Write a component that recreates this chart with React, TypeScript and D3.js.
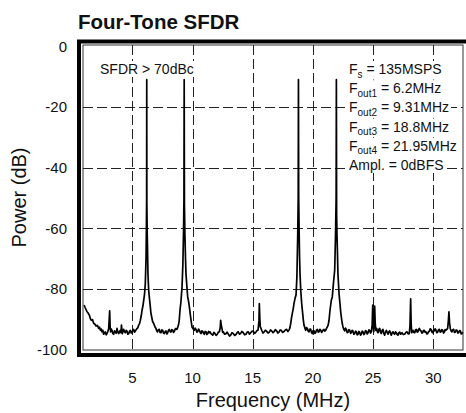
import React, { useEffect, useRef } from "react";
import * as d3 from "d3";

// spectrum trace: [frequency MHz, power dB]
const trace: [number, number][] = [
  [1.0, -85.3], [1.07, -86], [1.24, -87.5], [1.33, -87.9], [1.43, -88.6], [1.52, -89.8], [1.6, -90.3],
  [1.7, -90.1], [1.79, -91.3], [1.9, -91.6], [1.99, -92.2], [2.1, -92.0], [2.21, -93], [2.28, -92.6],
  [2.35, -93.6], [2.42, -93.2], [2.48, -94.1], [2.55, -93.6], [2.62, -94.9], [2.7, -94.4], [2.76, -94.1],
  [2.83, -95.1], [2.9, -94.7], [2.97, -94.0], [3.04, -93], [3.12, -87.2], [3.16, -92.5], [3.2, -94.1],
  [3.26, -93.2], [3.31, -93.6], [3.38, -94.6], [3.45, -94.9], [3.52, -93.8], [3.59, -94.1], [3.66, -94.6],
  [3.73, -93], [3.8, -94.2], [3.87, -94.7], [3.94, -94.0], [4.01, -93.6], [4.06, -94.4], [4.1, -91.9],
  [4.17, -94.7], [4.22, -94.1], [4.28, -93.3], [4.35, -94.0], [4.42, -94.4], [4.49, -93.6], [4.56, -93.9],
  [4.63, -94.9], [4.7, -94.7], [4.77, -93.9], [4.84, -93.6], [4.91, -94.5], [4.98, -94.2], [5.05, -93.7],
  [5.11, -93.3], [5.18, -94.2], [5.25, -93.9], [5.32, -93.4], [5.39, -93], [5.46, -92.8], [5.53, -91.9],
  [5.6, -91.4], [5.67, -90.3], [5.74, -88.9], [5.81, -87], [5.88, -85.6], [5.95, -83.7], [6.02, -81.5],
  [6.08, -78.3], [6.14, -70], [6.17, -60], [6.19, -50], [6.2, -11], [6.21, -52], [6.24, -62], [6.27, -68],
  [6.3, -75], [6.36, -80.4], [6.42, -82.9], [6.47, -84.8], [6.55, -88], [6.62, -89.4], [6.69, -90.8],
  [6.76, -91.2], [6.83, -91.9], [6.9, -92.6], [6.97, -93], [7.03, -93.8], [7.1, -94.1], [7.17, -93.4],
  [7.24, -93.3], [7.31, -94.3], [7.38, -94.4], [7.45, -93.5], [7.52, -93.6], [7.59, -94.5], [7.66, -94.7],
  [7.73, -94.0], [7.8, -93.8], [7.87, -94.8], [7.94, -94.4], [8.0, -93.7], [8.07, -93.3], [8.14, -94.0],
  [8.21, -94.2], [8.28, -93.4], [8.36, -93.6], [8.42, -94.3], [8.49, -94], [8.56, -93.2], [8.63, -93],
  [8.7, -93.3], [8.77, -92.7], [8.84, -91.8], [8.9, -90.3], [8.96, -87], [9.04, -84.2], [9.13, -79.3],
  [9.2, -72], [9.26, -60], [9.29, -50], [9.31, -11], [9.33, -52], [9.37, -62], [9.42, -70], [9.46, -75],
  [9.53, -79], [9.6, -82.6], [9.67, -84.0], [9.74, -85.9], [9.81, -88.2], [9.88, -90.3], [9.96, -92.5],
  [10.05, -93.1], [10.15, -93.6], [10.22, -92.9], [10.29, -93.3], [10.36, -94.2], [10.43, -94.1],
  [10.5, -93.2], [10.57, -93.6], [10.64, -94.3], [10.71, -94.7], [10.78, -93.8], [10.85, -93.9],
  [10.92, -94.6], [10.98, -94.9], [11.05, -94.0], [11.12, -94.1], [11.19, -95.0], [11.26, -94.7],
  [11.33, -94.0], [11.4, -94.4], [11.45, -94.1], [11.55, -94.8], [11.68, -95.2], [11.78, -94.3],
  [11.87, -94.7], [11.96, -95.3], [12.06, -94.9], [12.15, -94.2], [12.23, -94.1], [12.3, -92.8],
  [12.34, -90.3], [12.4, -92.2], [12.45, -93], [12.5, -94.3], [12.56, -94.1], [12.67, -94.9],
  [12.78, -94.7], [12.88, -94.2], [12.98, -94.9], [13.08, -95.5], [13.17, -95.2], [13.28, -94.4],
  [13.39, -94.7], [13.5, -95.3], [13.61, -95], [13.7, -94.4], [13.8, -94.1], [13.9, -94.9],
  [13.99, -94.7], [14.1, -94.0], [14.22, -94.4], [14.33, -95.1], [14.44, -94.9], [14.54, -94.2],
  [14.63, -94.1], [14.73, -94.9], [14.83, -94.4], [14.94, -93.9], [15.05, -94], [15.16, -94.6],
  [15.27, -94.2], [15.36, -93.7], [15.44, -93.6], [15.52, -90.5], [15.55, -84.8], [15.59, -89.5],
  [15.63, -92.5], [15.69, -93.0], [15.75, -93.6], [15.85, -94.5], [15.94, -94.2], [16.05, -93.6],
  [16.16, -93.9], [16.27, -94.5], [16.38, -94.2], [16.48, -93.5], [16.58, -93.8], [16.68, -94.4],
  [16.77, -94.1], [16.88, -93.4], [16.99, -93.8], [17.09, -94.5], [17.18, -94.2], [17.28, -93.5],
  [17.37, -93.6], [17.48, -94.3], [17.6, -94], [17.71, -93.5], [17.82, -93.3], [17.92, -94.0],
  [18.01, -93.6], [18.09, -92.8], [18.16, -91.3], [18.22, -89.6], [18.29, -88], [18.36, -86.6],
  [18.43, -84.8], [18.52, -83], [18.6, -82], [18.67, -76], [18.74, -62], [18.78, -50], [18.8, -11],
  [18.82, -50], [18.86, -62], [18.89, -69], [18.93, -75], [18.99, -80.4], [19.07, -84.8], [19.15, -88],
  [19.2, -90.0], [19.26, -91.9], [19.33, -92.8], [19.4, -93.6], [19.47, -92.7], [19.54, -93],
  [19.61, -93.9], [19.68, -94.1], [19.75, -93.2], [19.82, -93.3], [19.88, -94.3], [19.95, -94.7],
  [20.02, -93.7], [20.09, -93.8], [20.16, -94.6], [20.23, -94.4], [20.3, -93.5], [20.37, -93.3],
  [20.44, -94.2], [20.51, -94.1], [20.58, -93.3], [20.65, -93.6], [20.72, -94.3], [20.78, -94],
  [20.85, -93.5], [20.92, -93.3], [20.99, -93.9], [21.06, -93.6], [21.13, -93.0], [21.2, -92.5],
  [21.27, -91.8], [21.34, -90.3], [21.42, -87], [21.53, -83.7], [21.61, -82.6], [21.7, -78.3],
  [21.81, -73.8], [21.88, -62], [21.93, -50], [21.95, -11], [21.97, -55], [22.0, -62], [22.04, -68],
  [22.08, -75], [22.13, -78.6], [22.17, -81.5], [22.25, -84.8], [22.3, -87.2], [22.36, -89.2],
  [22.43, -91.2], [22.5, -92.5], [22.57, -93.3], [22.64, -93.8], [22.71, -92.9], [22.78, -93.3],
  [22.85, -94.4], [22.92, -94.2], [22.99, -93.4], [23.06, -93.6], [23.13, -94.6], [23.19, -94.4],
  [23.26, -93.6], [23.33, -93.9], [23.4, -94.9], [23.47, -94.7], [23.54, -93.9], [23.61, -94.1],
  [23.68, -95.1], [23.75, -94.9], [23.82, -94.0], [23.88, -94.2], [23.95, -95.2], [24.02, -94.9],
  [24.09, -93.9], [24.16, -94.1], [24.23, -95.0], [24.3, -94.7], [24.37, -93.7], [24.44, -93.9],
  [24.51, -94.8], [24.58, -94.4], [24.65, -93.5], [24.71, -93.6], [24.78, -94.5], [24.85, -94.1],
  [24.92, -92.0], [24.97, -85.3], [25.01, -91.5], [25.05, -94.1], [25.09, -90.6], [25.13, -85.6],
  [25.17, -90.8], [25.22, -93.6], [25.3, -93], [25.35, -94.0], [25.41, -94.4], [25.48, -93.2],
  [25.55, -93], [25.61, -94.2], [25.68, -94.7], [25.75, -93.6], [25.82, -93.3], [25.89, -94.6],
  [25.96, -95.2], [26.03, -94.2], [26.1, -93.6], [26.17, -94.3], [26.24, -94.9], [26.31, -94.1],
  [26.38, -93.8], [26.45, -94.6], [26.51, -95.2], [26.58, -94.5], [26.65, -94.1], [26.72, -94.6],
  [26.79, -94.9], [26.86, -94.1], [26.93, -94.4], [27.0, -95.0], [27.07, -95.2], [27.14, -94.4],
  [27.21, -94.2], [27.28, -94.9], [27.34, -94.7], [27.4, -94.4], [27.51, -95.0], [27.62, -94.9],
  [27.72, -94.3], [27.82, -94.1], [27.91, -94.8], [28.0, -94.7], [28.06, -92.5], [28.12, -83.2],
  [28.16, -91.0], [28.2, -94.4], [28.26, -94.0], [28.31, -93.6], [28.38, -94.3], [28.46, -94.4],
  [28.52, -93.5], [28.59, -93.3], [28.66, -94.2], [28.73, -94.1], [28.78, -93.3], [28.84, -93],
  [28.91, -93.6], [28.98, -93.8], [29.05, -94.5], [29.12, -94.4], [29.18, -93.7], [29.25, -93.6],
  [29.32, -94.2], [29.39, -94.1], [29.46, -94.8], [29.53, -94.7], [29.6, -94.1], [29.67, -93.9],
  [29.74, -93.1], [29.81, -93.3], [29.88, -94.2], [29.95, -94.4], [30.02, -93.6], [30.08, -93.8],
  [30.15, -93.1], [30.22, -93.6], [30.29, -94.4], [30.36, -94.2], [30.43, -93.4], [30.5, -93.3],
  [30.57, -94.2], [30.64, -94.1], [30.71, -93.4], [30.78, -93.6], [30.85, -94.5], [30.91, -94.2],
  [30.98, -93.4], [31.05, -93.6], [31.12, -93.3], [31.19, -93], [31.25, -90.5], [31.3, -87.5],
  [31.35, -91.2], [31.41, -93], [31.48, -93.8], [31.55, -94.1], [31.62, -93.4], [31.69, -93.3],
  [31.76, -94.3], [31.83, -94.2], [31.9, -93.5], [31.97, -93.6], [32.04, -94.5], [32.11, -94.4],
  [32.18, -93.7], [32.25, -93.8], [32.32, -94.8], [32.39, -94.7], [32.45, -94.2],
];

const xTicks = [5, 10, 15, 20, 25, 30];
const yTicks = [0, -20, -40, -60, -80, -100];
const yGrid = [-20, -40, -60, -80];
const legendMain = ["F", "F", "F", "F", "F", "Ampl. = 0dBFS"];
const legendSub = ["s", "out1", "out2", "out3", "out4", ""];
const legendRest = [" = 135MSPS", " = 6.2MHz", " = 9.31MHz", " = 18.8MHz", " = 21.95MHz", ""];
const sfdrNote = "SFDR > 70dBc";

const FONT = "'Liberation Sans', Arial, sans-serif";

const App: React.FC = () => {
  const svgRef = useRef<SVGSVGElement>(null);

  useEffect(() => {
    if (!svgRef.current) return;
    const svg = d3.select(svgRef.current);
    svg.selectAll("*").remove();

    const left = 83;
    const right = 463;
    const top = 45;
    const bottom = 350;

    const x = d3.scaleLinear().domain([0, 35]).range([72.1, 493.5]);
    const y = d3.scaleLinear().domain([-100, 0]).range([349.7, 46.3]);

    svg.append("rect").attr("width", 466).attr("height", 413).attr("fill", "#fff");

    // grid
    const grid = svg.append("g").attr("stroke", "#222").attr("stroke-width", 1)
      .attr("stroke-dasharray", "10,4");
    grid.selectAll("line.v").data(xTicks).join("line")
      .attr("x1", (d) => Math.round(x(d)) + 0.5).attr("x2", (d) => Math.round(x(d)) + 0.5)
      .attr("y1", top).attr("y2", bottom);
    grid.selectAll("line.h").data(yGrid).join("line")
      .attr("y1", (d) => Math.round(y(d)) + 0.5).attr("y2", (d) => Math.round(y(d)) + 0.5)
      .attr("x1", left).attr("x2", right);

    // notes with white backing
    const notes = svg.append("g").attr("font-family", FONT).attr("fill", "#111");
    const addBacked = (t: d3.Selection<SVGTextElement, unknown, null, undefined>) => {
      const b = (t.node() as SVGTextElement).getBBox();
      notes.insert("rect", () => t.node())
        .attr("x", b.x - 2).attr("y", b.y).attr("width", b.width + 4).attr("height", b.height)
        .attr("fill", "#fff");
    };
    const s = notes.append("text").attr("x", 100).attr("y", 74).attr("font-size", 14).text(sfdrNote);
    addBacked(s);
    legendMain.forEach((m, i) => {
      const t = notes.append("text").attr("x", 349).attr("y", 74 + i * 19.2).attr("font-size", 14);
      t.append("tspan").text(m);
      if (legendSub[i]) {
        t.append("tspan").attr("font-size", 10).attr("dy", 3.5).text(legendSub[i]);
        t.append("tspan").attr("dy", -3.5).text(legendRest[i]);
      }
      addBacked(t);
    });

    // trace
    const line = d3.line<[number, number]>().x((d) => x(d[0])).y((d) => y(d[1]));
    svg.append("path").datum(trace).attr("fill", "none").attr("stroke", "#000")
      .attr("stroke-width", 1.7).attr("stroke-linejoin", "round").attr("d", line);

    // frames
    svg.append("rect").attr("x", left).attr("y", top).attr("width", right - left)
      .attr("height", bottom - top).attr("fill", "none").attr("stroke", "#333").attr("stroke-width", 1);
    svg.append("rect").attr("x", 79).attr("y", 41.5).attr("width", 400).attr("height", 313.5)
      .attr("fill", "none").attr("stroke", "#000").attr("stroke-width", 4);

    // axis labels
    const lab = svg.append("g").attr("font-family", FONT).attr("fill", "#111");
    lab.selectAll("text.y").data(yTicks).join("text")
      .attr("x", 67).attr("y", (d) => y(d)).attr("dy", "0.35em").attr("text-anchor", "end")
      .attr("font-size", 15).text((d) => String(d));
    lab.selectAll("text.x").data(xTicks).join("text")
      .attr("x", (d) => x(d)).attr("y", 383).attr("text-anchor", "middle")
      .attr("font-size", 15).text((d) => String(d));
    lab.append("text").attr("x", (left + right) / 2).attr("y", 407).attr("text-anchor", "middle")
      .attr("font-size", 20).text("Frequency (MHz)");
    lab.append("text").attr("transform", `translate(26, ${(top + bottom) / 2}) rotate(-90)`)
      .attr("text-anchor", "middle").attr("font-size", 20).text("Power (dB)");
    lab.append("text").attr("x", 78).attr("y", 29).attr("font-size", 20.5).attr("font-weight", "bold")
      .text("Four-Tone SFDR");
  }, []);

  return (
    <svg ref={svgRef} width={466} height={413}
      style={{ position: "absolute", left: 0, top: 0, display: "block" }} />
  );
};

export default App;
